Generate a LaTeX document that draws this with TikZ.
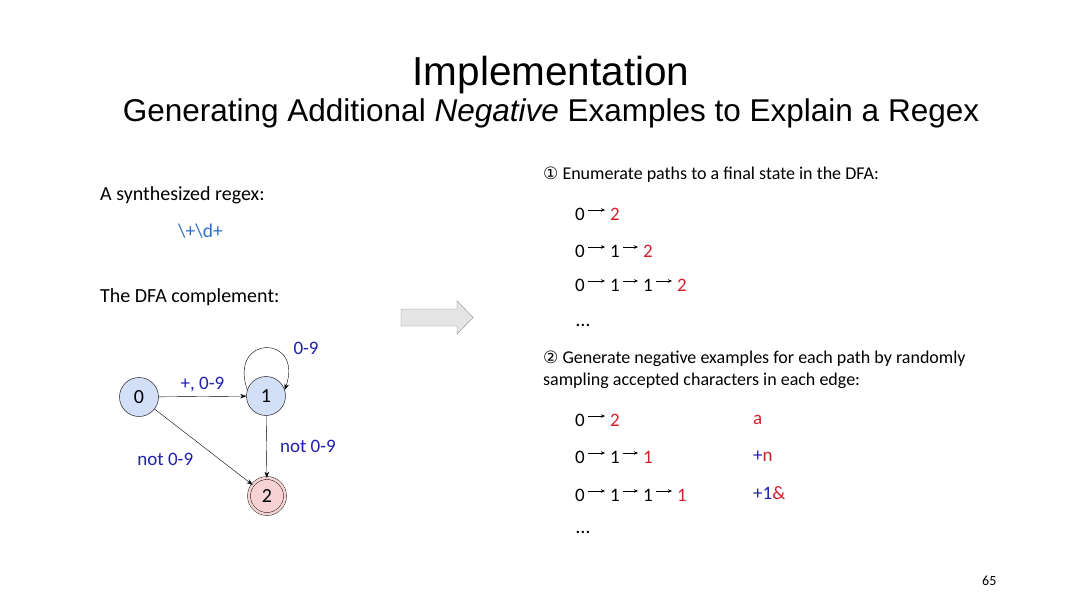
\documentclass[tikz,border=0pt]{standalone}
\usepackage{fontspec}
\setmainfont{Carlito}
\newfontfamily\titlefont{Liberation Sans}
\newfontfamily\symfont{DejaVu Sans}
\usetikzlibrary{arrows.meta,positioning}
\definecolor{stateblue}{HTML}{D3DFF6}
\definecolor{statered}{HTML}{F6D2D2}
\definecolor{lblblue}{HTML}{2020B0}
\definecolor{rxblue}{HTML}{2F6FC6}
\definecolor{pathred}{HTML}{D0202C}
\definecolor{arrgray}{HTML}{E4E4E4}
\begin{document}
\begin{tikzpicture}[x=1pt,y=1pt,
  every node/.style={font=\fontsize{20}{24}\selectfont},
  txt/.style={anchor=base west,inner sep=0pt},
  state/.style={draw,circle,thin,fill=stateblue,minimum size=39pt,inner sep=0pt},
  final/.style={state,fill=statered,double=statered,double distance=2.5pt,minimum size=36pt},
  edge/.style={-{Stealth[length=6pt,width=4.5pt]},thin},
  lbl/.style={text=lblblue,font=\fontsize{19}{22}\selectfont},
  dig/.style={anchor=base west,inner sep=0pt,font=\fontsize{19}{22}\selectfont},
  hop/.style={-{Stealth[length=4pt,width=3.5pt]},thin}]
\useasboundingbox (0,0) rectangle (1080,-608);
\fill[white] (0,0) rectangle (1080,-608);
% title
\node[anchor=base,inner sep=0pt,font=\titlefont\fontsize{40.5}{44}\selectfont] (title) at (551,-85) {Implementation};
\node[anchor=base,inner sep=0pt,font=\titlefont\fontsize{31.5}{34}\selectfont] (subtitle) at (551,-121) {Generating Additional \textit{Negative} Examples to Explain a Regex};
% left side
\node[txt] (synth) at (100,-200) {A synthesized regex:};
\node[txt,text=rxblue,font=\fontsize{19.5}{22}\selectfont] (regex) at (178,-237) {{\char92}+{\char92}d+};
\node[txt] (compl) at (100,-302) {The DFA complement:};
% DFA
\node[state] (s0) at (139,-397) {0};
\node[state] (s1) at (266,-396) {1};
\node[final] (s2) at (267,-496) {2};
\draw[edge] (s0) -- (s1) node[midway,above=1pt,lbl] {+, 0-9};
\draw[edge] (s1) -- (s2) node[pos=0.5,right=10pt,lbl] {not 0-9};
\draw[edge] (s0) -- (s2) node[pos=0.45,below left=6pt and 2pt,lbl] {not 0-9};
\draw[edge] (s1.162) .. controls (228,-334) and (304,-334) .. (s1.18) node[pos=0.5,above right=-10pt and 24pt,lbl] {0-9};
% block arrow
\filldraw[fill=arrgray,draw=black!45,thin] (401,-309) -- (457,-309) -- (457,-301) -- (473,-317.5) -- (457,-334) -- (457,-326) -- (401,-326) -- cycle;
% step 1
\node[txt] (one) at (543,-179) {\fontsize{18}{22}\selectfont{\symfont\fontsize{17}{22}\selectfont①} Enumerate paths to a final state in the DFA:};
\node[dig] (a0) at (575,-220) {0};
\node[dig,text=pathred] (a1) at (610,-220) {2};
\draw[hop] ([shift={(3pt,10pt)}]a0.base east) -- ([shift={(-5pt,10pt)}]a1.base west);
\node[dig] (b0) at (575,-257) {0};
\node[dig] (b1) at (610,-257) {1};
\node[dig,text=pathred] (b2) at (643,-257) {2};
\draw[hop] ([shift={(3pt,10pt)}]b0.base east) -- ([shift={(-5pt,10pt)}]b1.base west);
\draw[hop] ([shift={(3pt,10pt)}]b1.base east) -- ([shift={(-5pt,10pt)}]b2.base west);
\node[dig] (c0) at (575,-291) {0};
\node[dig] (c1) at (610,-291) {1};
\node[dig] (c2) at (643,-291) {1};
\node[dig,text=pathred] (c3) at (677,-291) {2};
\draw[hop] ([shift={(3pt,10pt)}]c0.base east) -- ([shift={(-5pt,10pt)}]c1.base west);
\draw[hop] ([shift={(3pt,10pt)}]c1.base east) -- ([shift={(-5pt,10pt)}]c2.base west);
\draw[hop] ([shift={(3pt,10pt)}]c2.base east) -- ([shift={(-5pt,10pt)}]c3.base west);
\node[txt] (dots1) at (576,-326) {\dots};
% step 2
\node[txt,align=left] (two) at (543,-363) {\fontsize{18}{22}\selectfont{\symfont\fontsize{17}{22}\selectfont②} Generate negative examples for each path by randomly};
\node[txt] (two2) at (543,-385) {\fontsize{18}{22}\selectfont sampling accepted characters in each edge:};
\node[dig] (d0) at (575,-426) {0};
\node[dig,text=pathred] (d1) at (610,-426) {2};
\draw[hop] ([shift={(3pt,10pt)}]d0.base east) -- ([shift={(-5pt,10pt)}]d1.base west);
\node[dig] (e0) at (575,-463) {0};
\node[dig] (e1) at (610,-463) {1};
\node[dig,text=pathred] (e2) at (643,-463) {1};
\draw[hop] ([shift={(3pt,10pt)}]e0.base east) -- ([shift={(-5pt,10pt)}]e1.base west);
\draw[hop] ([shift={(3pt,10pt)}]e1.base east) -- ([shift={(-5pt,10pt)}]e2.base west);
\node[dig] (f0) at (575,-501) {0};
\node[dig] (f1) at (610,-501) {1};
\node[dig] (f2) at (643,-501) {1};
\node[dig,text=pathred] (f3) at (677,-501) {1};
\draw[hop] ([shift={(3pt,10pt)}]f0.base east) -- ([shift={(-5pt,10pt)}]f1.base west);
\draw[hop] ([shift={(3pt,10pt)}]f1.base east) -- ([shift={(-5pt,10pt)}]f2.base west);
\draw[hop] ([shift={(3pt,10pt)}]f2.base east) -- ([shift={(-5pt,10pt)}]f3.base west);
\node[txt] (dots2) at (576,-533) {\dots};
% sampled strings
\node[dig,text=pathred] (ex1) at (753,-424) {a};
\node[dig] (ex2) at (753,-461) {\textcolor{lblblue}{+}\textcolor{pathred}{n}};
\node[dig] (ex3) at (753,-499) {\textcolor{lblblue}{+1}\textcolor{pathred}{\&}};
% page number
\node[txt,font=\fontsize{14}{16}\selectfont] (page) at (982,-585) {65};
\end{tikzpicture}
\end{document}
